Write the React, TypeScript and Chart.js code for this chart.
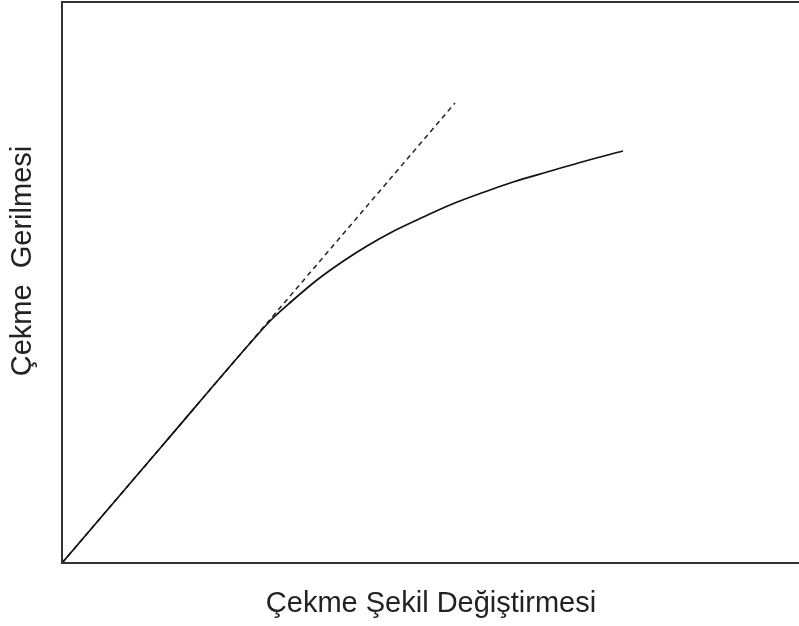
import React, { useEffect, useRef } from "react";
import { Chart, registerables } from "chart.js";

Chart.register(...registerables);

const xTitle = "Çekme Şekil Değiştirmesi";
const yTitle = "Çekme  Gerilmesi";

const curveX = [0, 100, 190, 210, 230, 255, 280, 305, 330, 355, 388, 428, 451, 485, 518, 561];
const curveY = [0, 117, 222, 244, 262, 283, 301, 317, 331, 343, 358, 373, 381, 391, 400.5, 412];

const tangentX = [0, 393];
const tangentY = [0, 460];

const xMax = 738;
const yMax = 561;

const frameAndTitles = {
  id: "frameAndTitles",
  afterDraw(chart: any) {
    const { ctx, chartArea } = chart;
    ctx.save();
    ctx.strokeStyle = "#333";
    ctx.lineWidth = 2;
    ctx.strokeRect(chartArea.left, chartArea.top, chartArea.right - chartArea.left, chartArea.bottom - chartArea.top);
    ctx.fillStyle = "#222";
    ctx.font = "29px 'Liberation Sans', Arial, sans-serif";
    ctx.textAlign = "center";
    ctx.textBaseline = "middle";
    ctx.fillText(xTitle, (chartArea.left + chartArea.right) / 2, 604);
    ctx.translate(23, 261);
    ctx.rotate(-Math.PI / 2);
    ctx.fillText(yTitle, 0, 0);
    ctx.restore();
  },
};

export default function App() {
  const ref = useRef<HTMLCanvasElement>(null);
  useEffect(() => {
    if (!ref.current) return;
    const chart = new Chart(ref.current, {
      type: "line",
      data: {
        datasets: [
          {
            data: curveX.map((x, i) => ({ x, y: curveY[i] })),
            borderColor: "#111",
            borderWidth: 1.7,
            pointRadius: 0,
            cubicInterpolationMode: "monotone",
            fill: false,
          },
          {
            data: tangentX.map((x, i) => ({ x, y: tangentY[i] })),
            borderColor: "#222",
            borderWidth: 1.5,
            borderDash: [5, 4],
            pointRadius: 0,
            fill: false,
          },
        ],
      },
      options: {
        responsive: false,
        animation: false,
        layout: { padding: { left: 62, top: 2, right: 10, bottom: 63 } },
        plugins: { legend: { display: false }, tooltip: { enabled: false } },
        scales: {
          x: { type: "linear", min: 0, max: xMax, display: false },
          y: { type: "linear", min: 0, max: yMax, display: false },
        },
      },
      plugins: [frameAndTitles],
    });
    return () => chart.destroy();
  }, []);
  return (
    <div style={{ position: "fixed", left: 0, top: 0, width: 799, height: 626, overflow: "hidden", background: "#fff" }}>
      <canvas ref={ref} width={810} height={626} style={{ display: "block" }} />
    </div>
  );
}
